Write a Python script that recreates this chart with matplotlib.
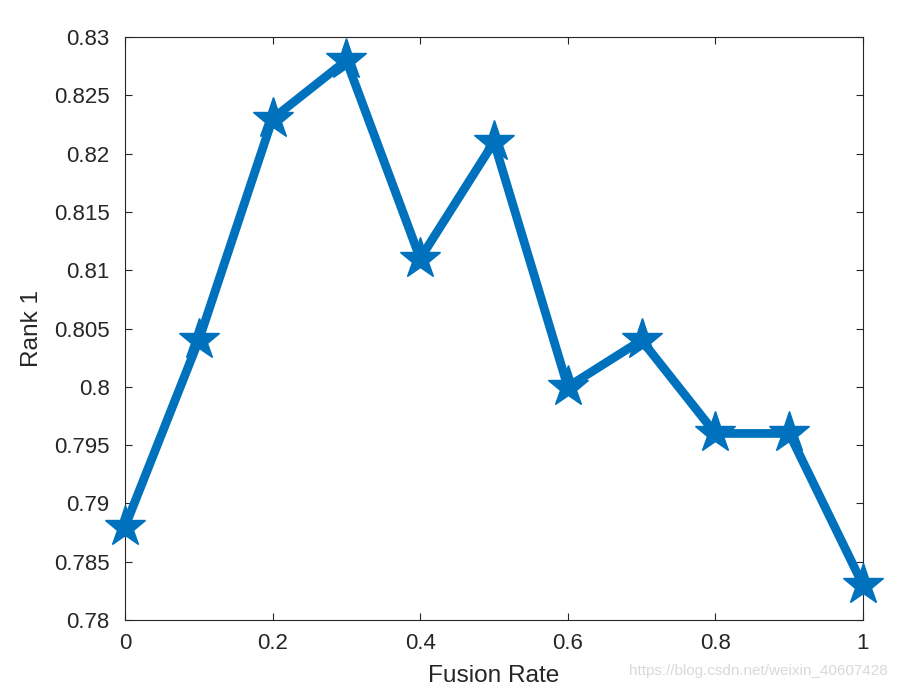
import matplotlib
matplotlib.use("Agg")
import matplotlib.pyplot as plt

plt.rcParams["font.family"] = ["Liberation Sans", "DejaVu Sans"]

fusion_rate = [0.0, 0.1, 0.2, 0.3, 0.4, 0.5, 0.6, 0.7, 0.8, 0.9, 1.0]
rank1 = [0.788, 0.804, 0.823, 0.828, 0.811, 0.821, 0.800, 0.804, 0.796, 0.796, 0.783]
x_ticks = [0, 0.2, 0.4, 0.6, 0.8, 1]
x_labels = ["0", "0.2", "0.4", "0.6", "0.8", "1"]
y_ticks = [0.78, 0.785, 0.79, 0.795, 0.8, 0.805, 0.81, 0.815, 0.82, 0.825, 0.83]
y_labels = ["0.78", "0.785", "0.79", "0.795", "0.8", "0.805", "0.81", "0.815", "0.82", "0.825", "0.83"]

fig = plt.figure(figsize=(8.98, 6.86), dpi=100)
ax = fig.add_axes([0.1392, 0.0962, 0.961 - 0.1392, 0.946 - 0.0962])

ax.plot(fusion_rate, rank1, color="#0072BD", linewidth=6.3, marker="*",
        markersize=31, markeredgewidth=1.0, clip_on=False, zorder=5)

ax.set_xlim(0, 1)
ax.set_ylim(0.78, 0.83)
ax.set_xticks(x_ticks)
ax.set_xticklabels(x_labels)
ax.set_yticks(y_ticks)
ax.set_yticklabels(y_labels)
ax.tick_params(direction="in", length=5, width=0.8, labelsize=16, colors="#262626",
               top=True, right=True)
ax.tick_params(axis="y", pad=11)
ax.tick_params(axis="x", pad=9)
for s in ax.spines.values():
    s.set_linewidth(0.8)
    s.set_color("#262626")

ax.set_xlabel("Fusion Rate", fontsize=17.6, color="#262626", labelpad=8)
ax.set_ylabel("Rank 1", fontsize=17.6, color="#262626", labelpad=8)

fig.text(0.989, 0.012, "https://blog.csdn.net/weixin_40607428", ha="right", va="bottom",
         fontsize=11, color="#d9d9d9")

fig.savefig("out.png", dpi=100)
